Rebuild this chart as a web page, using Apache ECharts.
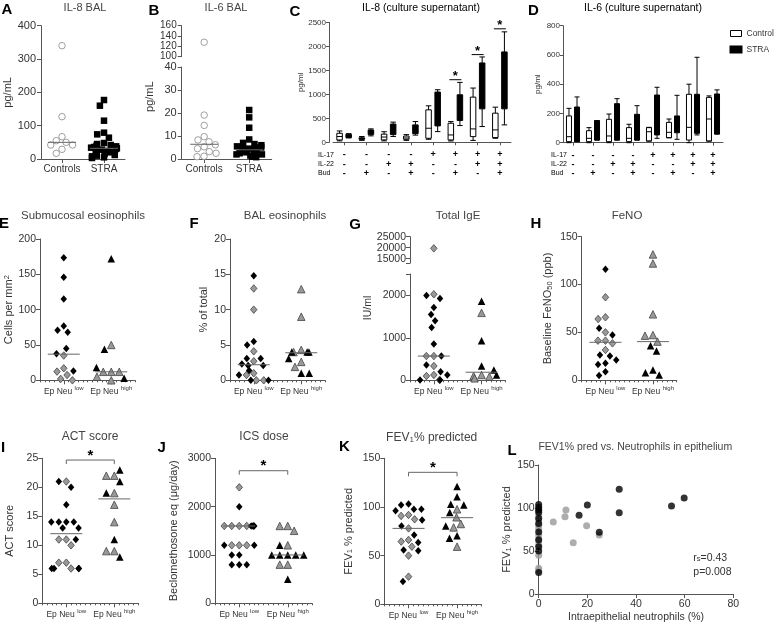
<!DOCTYPE html>
<html><head><meta charset="utf-8">
<script src="https://cdn.jsdelivr.net/npm/echarts@6/dist/echarts.min.js"></script>
<style>html,body{margin:0;padding:0;background:#fff}#c{width:774px;height:624px}</style>
</head><body><div id="c"></div>
<script>
// ---------------- DATA ----------------
const AB_cats = ['Controls', 'STRA'];
const A_controls = [340, 127, 67, 55, 50, 42, 42, 29, 17];
const A_stra = [177, 160, 115, 79, 74, 64, 48, 45, 42, 40, 38, 36, 34, 32, 30, 28, 26, 24, 22, 20, 18, 15, 12, 10, 8, 5, 3];
const A_medians = [50, 32];

const B_controls = [128, 19.1, 14.6, 9.7, 8.3, 7.5, 6.2, 5.3, 4.5, 3.2, 2.5, 1.2, 1.0];
const B_stra = [21.3, 18.1, 13.6, 8.5, 7, 6.5, 6, 5.5, 5, 5, 4.5, 4.5, 4, 4, 3.5, 3.5, 3, 3, 2.5, 2, 2, 1.5, 1, 0.8];
const B_medians = [6.4, 4];

const il17 = ['-', '-', '-', '-', '+', '+', '+', '+'];
const il22 = ['-', '-', '+', '+', '-', '-', '+', '+'];
const bud  = ['-', '+', '-', '+', '-', '+', '-', '+'];
const rowLabels = ['IL-17', 'IL-22', 'Bud'];

// [min, Q1, median, Q3, max]
const C_control = [[30, 48, 120, 188, 236], [40, 60, 80, 95, 120], [30, 50, 110, 170, 220], [40, 63, 90, 130, 160],
                   [63, 84, 293, 676, 760], [28, 49, 153, 397, 432], [40, 118, 279, 941, 1130], [84, 98, 258, 607, 732]];
const C_stra = [[90, 100, 130, 167, 180], [134, 160, 200, 257, 280], [120, 160, 250, 380, 420], [150, 180, 250, 363, 432],
                [223, 342, 700, 1046, 1095], [349, 453, 700, 990, 1248], [328, 697, 1100, 1653, 1778], [363, 697, 1200, 1883, 2301]];
const C_sig = [[5, 1304], [6, 1827], [7, 2364]];

const D_control = [[0, 7, 41, 183, 235], [0, 7, 30, 82, 103], [0, 7, 46, 160, 196], [0, 7, 30, 103, 126],
                   [11, 11, 75, 103, 105], [34, 34, 71, 139, 162], [0, 18, 105, 331, 400], [11, 11, 162, 310, 320]];
const D_stra = [[7, 7, 15, 244, 313], [18, 18, 25, 151, 151], [18, 18, 30, 267, 301], [18, 18, 30, 194, 253],
                [30, 53, 100, 326, 379], [23, 68, 100, 183, 324], [53, 64, 150, 331, 584], [59, 59, 150, 333, 361]];

const grpCats = ['low', 'high'];

const E_low_black = [173.6, 145.8, 115, 77, 71, 68, 45, 37.7, 13.2];
const E_low_grey = [35, 17, 12.3, 7.5, 2, 0];
const E_high_black = [172, 44, 18, 3];
const E_high_grey = [50, 12, 12, 12, 5, 0];
const E_medians = [37, 12];

const F_low_black = [14.8, 5.5, 5.0, 3.1, 3.1, 2.3, 2.1, 2.1, 1.4, 0.75, 0, 0];
const F_low_grey = [13, 10, 4.1, 2.7, 1.0, 0.75, 0, 0];
const F_high_black = [4.0, 4.0, 4.0, 3.1, 1.0, 1.0];
const F_high_grey = [12.9, 9, 4.3, 4.0, 2.6, 1.9];
const F_medians = [2.2, 3.9];

const G_low_black = [1992, 1922, 1711, 1547, 1398, 1242, 852, 570, 359, 203, 125, 8, 8];
const G_low_grey = [19700, 2023, 570, 570, 336, 125, 100, 8];
const G_high_black = [1860, 930, 336, 242, 125];
const G_high_grey = [1586, 125, 100, 86, 47];
const G_medians = [570, 190];

const H_low_black = [116, 54.3, 47.3, 26.4, 25.4, 21.2, 17.7, 16.4, 9.0, 4.9];
const H_low_grey = [86.7, 65.8, 64, 50.1, 41.4, 41.4, 38.6, 31.7];
const H_high_black = [36.2, 30.6, 10.8, 8, 5.6];
const H_high_grey = [131.5, 122, 68.9, 47.3, 46.6, 40.4];
const H_medians = [39.7, 40.4];

const I_low_black = [21, 20, 17, 14, 14, 14, 14, 13, 13, 11, 6, 6, 6, 6];
const I_low_grey = [21, 11, 11, 10, 7, 7, 6];
const I_high_black = [23, 21, 19, 11, 8];
const I_high_grey = [22, 22, 19, 17, 14, 9, 9];
const I_medians = [12, 18];
const I_sig = [[0, 1, 24.7]];

const J_low_black = [2000, 1600, 1600, 1600, 1600, 1200, 1200, 1000, 1000, 800, 800, 800];
const J_low_grey = [2400, 1600, 1600, 1600, 1600, 1200, 1200, 1200];
const J_high_black = [1200, 1000, 1000, 1000, 1000, 1000, 500];
const J_high_grey = [1600, 1600, 1500, 1200, 800, 800];
const J_medians = [1600, 1000];
const J_sig = [[0, 1, 2743]];

const K_low_black = [103, 102, 97.6, 97.6, 96, 86.6, 80.5, 71.2, 63.4, 55.8, 55.1, 23.3];
const K_low_grey = [91.8, 90.8, 87.3, 78, 66.1, 64.4, 59.2, 50, 28.4];
const K_high_black = [121, 110.6, 102.7, 102, 94.2, 80.5, 70.5, 67.8];
const K_high_grey = [97.6, 89.4, 82.5, 79, 59.2];
const K_medians = [78, 89];
const K_sig = [[0, 1, 135.6]];

const L_black = [[0, 104], [0, 101], [0, 98], [0, 95], [0, 88], [0, 82], [0, 72], [0, 63], [0, 55], [0, 50], [0, 25],
                 [33.1, 121.7], [20, 103.5], [16.6, 91.5], [33.1, 94.5], [54.6, 102.3], [59.8, 111.6], [24.9, 71.7]];
const L_grey = [[0, 97], [0, 92], [0, 86], [0, 80], [0, 76], [0, 68], [0, 62], [0, 57], [0, 45], [0, 30], [0, 27],
                [11.2, 97.7], [10.8, 89.9], [19.7, 79.4], [14.2, 59.7], [24.9, 68.6], [6, 83.7]];

// ---------------- STYLE / BUILD ----------------
const FONT = '"Liberation Sans", Arial, Helvetica, sans-serif';
const AX = '#555';
const TXT = '#333';
const GREY = '#999';
const plain = v => String(v);

const grids = [], xAxes = [], yAxes = [], series = [];
function addGrid(l, t, w, h) { grids.push({ left: l, top: t, width: w, height: h }); return grids.length - 1; }

function catX(gi, data, o) {
  o = o || {};
  const ax = {
    type: 'category', gridIndex: gi, data: data, boundaryGap: true, position: 'bottom',
    jitter: o.jitter || 0, jitterOverlap: false, jitterMargin: 0.5,
    axisLine: { show: o.show !== false, lineStyle: { color: AX, width: 1 } },
    axisTick: { show: o.show !== false, alignWithLabel: true, length: o.tickLen || 4, lineStyle: { color: AX } },
    axisLabel: Object.assign({ show: o.show !== false, interval: 0, color: TXT, fontFamily: FONT, fontSize: 10, margin: 5 }, o.label || {})
  };
  xAxes.push(ax); return xAxes.length - 1;
}
function minorX(gi) {
  xAxes.push({ type: 'value', gridIndex: gi, min: 0, max: 1, interval: 0.05, position: 'bottom',
    axisLine: { show: false }, axisTick: { show: true, length: 2, lineStyle: { color: AX } },
    axisLabel: { show: false }, splitLine: { show: false } });
}
function valY(gi, min, max, interval, o) {
  o = o || {};
  const ax = {
    type: 'value', gridIndex: gi, min: min, max: max, offset: o.offset || 0,
    axisLine: { show: true, lineStyle: { color: AX, width: 1 } },
    axisTick: { show: true, length: o.tickLen || 4, lineStyle: { color: AX } },
    axisLabel: { color: TXT, fontFamily: FONT, fontSize: o.fontSize || 10.5, margin: o.margin || 4, formatter: plain,
      showMinLabel: true, showMaxLabel: true, hideOverlap: false },
    splitLine: { show: false }
  };
  if (interval) ax.interval = interval;
  if (o.labelValues) ax.axisLabel.customValues = o.labelValues;
  if (o.tickValues) ax.axisTick.customValues = o.tickValues;
  if (o.name) {
    ax.name = o.name; ax.nameLocation = 'middle'; ax.nameGap = o.nameGap;
    ax.nameTextStyle = { color: TXT, fontFamily: FONT, fontSize: o.nameSize || 11,
      rich: { sub: { fontSize: 7.5, verticalAlign: 'bottom', color: TXT, fontFamily: FONT },
              sup: { fontSize: 7.5, verticalAlign: 'top', color: TXT, fontFamily: FONT } } };
  }
  yAxes.push(ax); return yAxes.length - 1;
}
function dots(xi, yi, cat, values, symbol, fill, stroke, size) {
  series.push({ type: 'scatter', xAxisIndex: xi, yAxisIndex: yi, symbol: symbol, symbolSize: size,
    data: values.map(v => [cat, v]), silent: true, z: 3,
    itemStyle: { color: fill, borderColor: stroke || fill, borderWidth: stroke ? 0.8 : 0, opacity: 1 } });
}
function medians(xi, yi, vals, half) {
  series.push({ type: 'custom', xAxisIndex: xi, yAxisIndex: yi, silent: true, z: 5,
    data: vals.map((v, i) => [i, v]),
    renderItem: function (p, api) {
      const pt = api.coord([api.value(0), api.value(1)]);
      return { type: 'line', shape: { x1: pt[0] - half, y1: pt[1], x2: pt[0] + half, y2: pt[1] },
        style: { stroke: '#666', lineWidth: 1 } };
    } });
}
function bracket(xi, yi, data) {
  series.push({ type: 'custom', xAxisIndex: xi, yAxisIndex: yi, silent: true, z: 5,
    encode: { x: [0, 1], y: 2 }, data: data,
    renderItem: function (p, api) {
      const v = api.value(2);
      const a = api.coord([api.value(0), v]), b = api.coord([api.value(1), v]);
      return { type: 'group', children: [
        { type: 'polyline', shape: { points: [[a[0], a[1] + 4], a, b, [b[0], b[1] + 4]] }, style: { stroke: '#666', fill: null, lineWidth: 1 } },
        { type: 'text', style: { text: '*', x: (a[0] + b[0]) / 2, y: a[1] + 3, align: 'center', verticalAlign: 'bottom', font: 'bold 15px ' + FONT, fill: '#000' } }
      ] };
    } });
}
function sigMarks(xi, yi, data) {
  series.push({ type: 'custom', xAxisIndex: xi, yAxisIndex: yi, silent: true, z: 5, data: data,
    renderItem: function (p, api) {
      const a = api.coord([api.value(0), api.value(1)]);
      return { type: 'group', children: [
        { type: 'line', shape: { x1: a[0] - 6, y1: a[1], x2: a[0] + 6, y2: a[1] }, style: { stroke: '#000', lineWidth: 1 } },
        { type: 'text', style: { text: '*', x: a[0], y: a[1] + 3, align: 'center', verticalAlign: 'bottom', font: 'bold 13px ' + FONT, fill: '#000' } }
      ] };
    } });
}
const S_DIA = [6.5, 7.5], S_TRI = 7.5;
function groupDots(xi, yi, lowB, lowG, highB, highG) {
  dots(xi, yi, 0, lowG, 'diamond', GREY, '#444', S_DIA); dots(xi, yi, 0, lowB, 'diamond', '#000', null, S_DIA);
  dots(xi, yi, 1, highG, 'triangle', GREY, '#444', S_TRI); dots(xi, yi, 1, highB, 'triangle', '#000', null, S_TRI);
}
const grpLabel = { fontSize: 8.5, margin: 5, color: TXT, formatter: v => '{a|Ep Neu} {s|' + v + '}',
  rich: { a: { fontSize: 8.5, fontFamily: FONT, color: TXT, lineHeight: 13 }, s: { fontSize: 6, fontFamily: FONT, color: TXT, verticalAlign: 'top' } } };

// ---- A ----
let g = addGrid(41, 25.7, 84, 133.3);
let xi = catX(g, AB_cats, { jitter: 26 });
let yi = valY(g, 0, 400, 100, { fontSize: 11, margin: 5, name: 'pg/mL', nameGap: 27 });
dots(xi, yi, 0, A_controls, 'circle', '#fff', '#888', 6.5);
dots(xi, yi, 1, A_stra, 'rect', '#000', null, 6.5);
medians(xi, yi, A_medians, 14);

// ---- B ----
let gLo = addGrid(181.7, 67, 90, 92);
let gUp = addGrid(181.7, 25.7, 90, 31);
let xLo = catX(gLo, AB_cats, { jitter: 26 });
let xUp = catX(gUp, AB_cats, { jitter: 26, show: false });
let yLo = valY(gLo, 0, 40, 10, { fontSize: 11, margin: 5 });
let yUp = valY(gUp, 100, 160, 20, { fontSize: 10, margin: 5 });
dots(xLo, yLo, 0, B_controls.filter(v => v <= 40), 'circle', '#fff', '#888', 6.5);
dots(xUp, yUp, 0, B_controls.filter(v => v > 40), 'circle', '#fff', '#888', 6.5);
dots(xLo, yLo, 1, B_stra, 'rect', '#000', null, 6.5);
medians(xLo, yLo, B_medians, 14);

// ---- C ----
const signCats = il17.map((v, i) => v + '\n' + il22[i] + '\n' + bud[i]);
g = addGrid(333, 22.3, 178, 120);
xi = catX(g, signCats, { tickLen: 3, label: { fontSize: 9, lineHeight: 9.2, margin: 8, color: '#000', fontWeight: 'bold' } });
yi = valY(g, 0, 2500, 500, { offset: 4, fontSize: 8, tickLen: 3, margin: 3, name: 'pg/ml', nameGap: 19, nameSize: 8 });
series.push({ type: 'boxplot', name: 'Control', xAxisIndex: xi, yAxisIndex: yi, data: C_control, boxWidth: [5.5, 5.5], silent: true,
  itemStyle: { color: '#fff', borderColor: '#000', borderWidth: 1 } });
series.push({ type: 'boxplot', name: 'STRA', xAxisIndex: xi, yAxisIndex: yi, data: C_stra, boxWidth: [5.5, 5.5], silent: true,
  itemStyle: { color: '#000', borderColor: '#000', borderWidth: 1 } });
sigMarks(xi, yi, C_sig);

// ---- D ----
g = addGrid(563, 25.7, 160, 117);
xi = catX(g, signCats, { tickLen: 3, label: { fontSize: 9, lineHeight: 9.2, margin: 8, color: '#000', fontWeight: 'bold' } });
yi = valY(g, 0, 800, 200, { fontSize: 8, tickLen: 3, margin: 3, name: 'pg/ml', nameGap: 21, nameSize: 8 });
series.push({ type: 'boxplot', name: 'Control', xAxisIndex: xi, yAxisIndex: yi, data: D_control, boxWidth: [5, 5], silent: true,
  itemStyle: { color: '#fff', borderColor: '#000', borderWidth: 1 } });
series.push({ type: 'boxplot', name: 'STRA', xAxisIndex: xi, yAxisIndex: yi, data: D_stra, boxWidth: [5, 5], silent: true,
  itemStyle: { color: '#000', borderColor: '#000', borderWidth: 1 } });

// ---- E ----
g = addGrid(40, 239, 95, 141.3);
xi = catX(g, grpCats, { jitter: 30, label: grpLabel }); minorX(g);
yi = valY(g, 0, 200, 50, { name: 'Cells per mm{sup|2}', nameGap: 26 });
groupDots(xi, yi, E_low_black, E_low_grey, E_high_black, E_high_grey);
medians(xi, yi, E_medians, 16);

// ---- F ----
g = addGrid(230, 239, 95, 141.3);
xi = catX(g, grpCats, { jitter: 30, label: grpLabel }); minorX(g);
yi = valY(g, 0, 20, 5, { name: '% of total', nameGap: 21 });
groupDots(xi, yi, F_low_black, F_low_grey, F_high_black, F_high_grey);
medians(xi, yi, F_medians, 16);

// ---- G ----
gLo = addGrid(410, 274, 95.4, 106.3);
gUp = addGrid(410, 236.7, 95.4, 26.4);
xLo = catX(gLo, grpCats, { jitter: 30, label: grpLabel }); minorX(gLo);
xUp = catX(gUp, grpCats, { jitter: 30, show: false });
yLo = valY(gLo, 0, 2500, null, { labelValues: [0, 1000, 2000], tickValues: [0, 1000, 2000, 2500] });
yUp = valY(gUp, 13000, 25000, null, { labelValues: [15000, 20000, 25000], tickValues: [13000, 15000, 20000, 25000] });
{
  const lo = a => a.filter(v => v <= 2500), hi = a => a.filter(v => v > 2500);
  groupDots(xLo, yLo, lo(G_low_black), lo(G_low_grey), lo(G_high_black), lo(G_high_grey));
  groupDots(xUp, yUp, hi(G_low_black), hi(G_low_grey), hi(G_high_black), hi(G_high_grey));
}
medians(xLo, yLo, G_medians, 16);

// ---- H ----
g = addGrid(581.7, 236.7, 95, 143.6);
xi = catX(g, grpCats, { jitter: 30, label: grpLabel }); minorX(g);
yi = valY(g, 0, 150, 50, { name: 'Baseline FeNO{sub|50} (ppb)', nameGap: 28 });
groupDots(xi, yi, H_low_black, H_low_grey, H_high_black, H_high_grey);
medians(xi, yi, H_medians, 16);

// ---- I ----
g = addGrid(42.3, 458.3, 96, 145);
xi = catX(g, grpCats, { jitter: 32, label: grpLabel }); minorX(g);
yi = valY(g, 0, 25, 5, { name: 'ACT score', nameGap: 27 });
groupDots(xi, yi, I_low_black, I_low_grey, I_high_black, I_high_grey);
medians(xi, yi, I_medians, 16);
bracket(xi, yi, I_sig);

// ---- J ----
g = addGrid(215, 458.3, 97, 145);
xi = catX(g, grpCats, { jitter: 32, label: grpLabel }); minorX(g);
yi = valY(g, 0, 3000, 1000, { name: 'Beclomethosone eq (μg/day)', nameGap: 36 });
groupDots(xi, yi, J_low_black, J_low_grey, J_high_black, J_high_grey);
medians(xi, yi, J_medians, 16);
bracket(xi, yi, J_sig);

// ---- K ----
g = addGrid(384.3, 458.3, 97, 146);
xi = catX(g, grpCats, { jitter: 32, label: grpLabel }); minorX(g);
yi = valY(g, 0, 150, 50, { name: 'FEV{sub|1} % predicted', nameGap: 30 });
groupDots(xi, yi, K_low_black, K_low_grey, K_high_black, K_high_grey);
medians(xi, yi, K_medians, 16);
bracket(xi, yi, K_sig);

// ---- L ----
g = addGrid(538.7, 465, 194.6, 129);
xAxes.push({ type: 'value', gridIndex: g, min: 0, max: 80, interval: 20, position: 'bottom',
  name: 'Intraepithelial neutrophils (%)', nameLocation: 'middle', nameGap: 18,
  nameTextStyle: { color: TXT, fontFamily: FONT, fontSize: 10.5 },
  axisLine: { show: true, onZero: false, lineStyle: { color: AX } }, axisTick: { show: true, length: 4, lineStyle: { color: AX } },
  axisLabel: { color: TXT, fontFamily: FONT, fontSize: 10.5, margin: 5 }, splitLine: { show: false } });
xi = xAxes.length - 1;
yi = valY(g, 0, 150, 50, { name: 'FEV{sub|1} % predicted', nameGap: 26 });
yAxes[yi].axisLine.onZero = false;
series.push({ type: 'scatter', xAxisIndex: xi, yAxisIndex: yi, symbolSize: 7, data: L_grey, silent: true, itemStyle: { color: GREY } });
series.push({ type: 'scatter', xAxisIndex: xi, yAxisIndex: yi, symbolSize: 7, data: L_black, silent: true, itemStyle: { color: '#000' } });

// ---------------- TEXT ----------------
const graphic = [];
const letters = [['A', 7, 10], ['B', 154, 11], ['C', 295, 11.5], ['D', 533.5, 11.3], ['E', 4, 224], ['F', 194, 224], ['G', 355, 225],
  ['H', 536, 224], ['I', 3, 447.5], ['J', 161.7, 447.5], ['K', 344.3, 446.7], ['L', 512, 451]];
letters.forEach(l => graphic.push({ type: 'text', x: l[1], y: l[2], silent: true,
  style: { text: l[0], font: 'bold 15px ' + FONT, fill: '#000', align: 'center', verticalAlign: 'middle' } }));
const titles = [['IL-8 BAL', 85, 7.5, 11, '#444'], ['IL-6 BAL', 226, 7.5, 11, '#444'],
  ['IL-8 (culture supernatant)', 421, 8, 10.5, '#000'], ['IL-6 (culture supernatant)', 643, 8.3, 10.5, '#000'],
  ['Submucosal eosinophils', 83, 216, 11.5, '#444'], ['BAL eosinophils', 285, 216, 11.5, '#444'],
  ['Total IgE', 458, 216, 11.5, '#444'], ['FeNO', 627, 216, 11.5, '#444'],
  ['ACT score', 90, 437, 12, '#444'], ['ICS dose', 264, 437, 12, '#444'],
  ['FEV{sub|1}% predicted', 431.7, 438, 12, '#444'], ['FEV1% pred vs. Neutrophils in epithelium', 635.3, 447.5, 10.5, '#444']];
titles.forEach(t => graphic.push({ type: 'text', x: t[1], y: t[2], silent: true,
  style: { text: t[0], font: t[3] + 'px ' + FONT, fill: t[4], align: 'center', verticalAlign: 'middle',
    rich: { sub: { fontSize: 8, fontFamily: FONT, fill: t[4], verticalAlign: 'bottom' } } } }));
const rowY = [155, 164.3, 173.3];
[318, 551].forEach(x => rowLabels.forEach((r, i) => graphic.push({ type: 'text', x: x, y: rowY[i], silent: true,
  style: { text: r, font: '7px ' + FONT, fill: '#000', align: 'left', verticalAlign: 'middle' } })));
graphic.push({ type: 'text', x: 150, y: 96.7, rotation: Math.PI / 2, silent: true,
  style: { text: 'pg/mL', font: '11px ' + FONT, fill: TXT, align: 'center', verticalAlign: 'middle' } });
graphic.push({ type: 'text', x: 368.3, y: 308, rotation: Math.PI / 2, silent: true,
  style: { text: 'IU/ml', font: '10.5px ' + FONT, fill: TXT, align: 'center', verticalAlign: 'middle' } });
graphic.push({ type: 'text', x: 693.3, y: 557.7, silent: true,
  style: { text: 'r{sub|s}=0.43', font: '10.5px ' + FONT, fill: TXT, align: 'left', verticalAlign: 'middle',
    rich: { sub: { fontSize: 7.5, fontFamily: FONT, fill: TXT, verticalAlign: 'bottom' } } } });
graphic.push({ type: 'text', x: 693.3, y: 572.3, silent: true,
  style: { text: 'p=0.008', font: '10.5px ' + FONT, fill: TXT, align: 'left', verticalAlign: 'middle' } });

const chart = echarts.init(document.getElementById('c'));
chart.setOption({
  animation: false,
  textStyle: { fontFamily: FONT },
  legend: { left: 729.5, top: 29, padding: 0, orient: 'vertical', itemWidth: 11, itemHeight: 6, itemGap: 7, selectedMode: false,
    textStyle: { fontFamily: FONT, fontSize: 8.5, color: TXT },
    data: [{ name: 'Control', icon: 'rect', itemStyle: { color: '#fff', borderColor: '#000', borderWidth: 1 } },
           { name: 'STRA', icon: 'rect', itemStyle: { color: '#000' } }] },
  grid: grids, xAxis: xAxes, yAxis: yAxes, series: series, graphic: graphic
});
</script>
</body></html>
